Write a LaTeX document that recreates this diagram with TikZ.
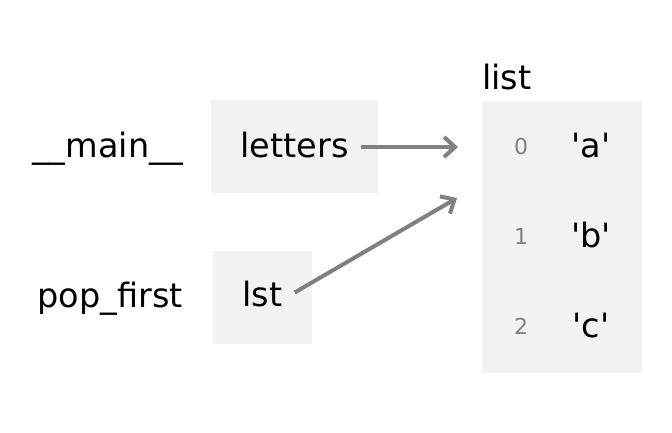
\documentclass[tikz,border=0pt]{standalone}
\usepackage{fontspec}
\setmainfont{DejaVu Sans}
\newfontfamily\plainquote{DejaVu Sans}
\usetikzlibrary{arrows.meta}

\tikzset{
  framebox/.style={fill=gray!10, inner sep=0pt, anchor=north west},
  word/.style={inner sep=0pt, font=\fontsize{33.5}{40}\selectfont},
  value/.style={inner sep=0pt, font=\plainquote\fontsize{33.5}{40}\selectfont},
  index/.style={inner sep=0pt, text=gray, font=\fontsize{22}{26}\selectfont},
  ref/.style={draw=gray, line width=4pt, -{Straight Barb[length=11pt,width=20pt]}}
}

\begin{document}
\begin{tikzpicture}[x=1pt, y=-1pt]
  \useasboundingbox (0,0) rectangle (672,432);

  % Frames
  \node[framebox, minimum width=167pt, minimum height=93pt] (mainbox) at (211,100) {};
  \node[framebox, minimum width=99pt, minimum height=93pt] (popbox) at (213,251) {};
  \node[word, anchor=base east] (mainlabel) at (183,157) {\_\_main\_\_};
  \node[word, anchor=base east] (poplabel) at (183,307) {pop\_first};

  % Variables
  \node[word, anchor=base] (letters) at (294.5,157) {letters};
  \node[word, anchor=base] (lst) at (262.5,306) {lst};

  % List object
  \node[framebox, minimum width=160pt, minimum height=272pt] (listbox) at (482,101) {};
  \node[word, anchor=base west] (listlabel) at (482,89) {list};
  \node[index, anchor=base] (i0) at (521,154) {0};
  \node[index, anchor=base] (i1) at (521,244) {1};
  \node[index, anchor=base] (i2) at (521,334) {2};
  \node[value, anchor=base] (va) at (591,157) {'a'};
  \node[value, anchor=base] (vb) at (591,247) {'b'};
  \node[value, anchor=base] (vc) at (591,337) {'c'};

  % References
  \coordinate (intop) at (458,147);
  \coordinate (inlow) at (457,198);
  \draw[ref] ([xshift=12pt]letters.east |- intop) -- (intop);
  \draw[ref] ([xshift=12pt,yshift=1pt]lst.east) -- (inlow);

\end{tikzpicture}
\end{document}
